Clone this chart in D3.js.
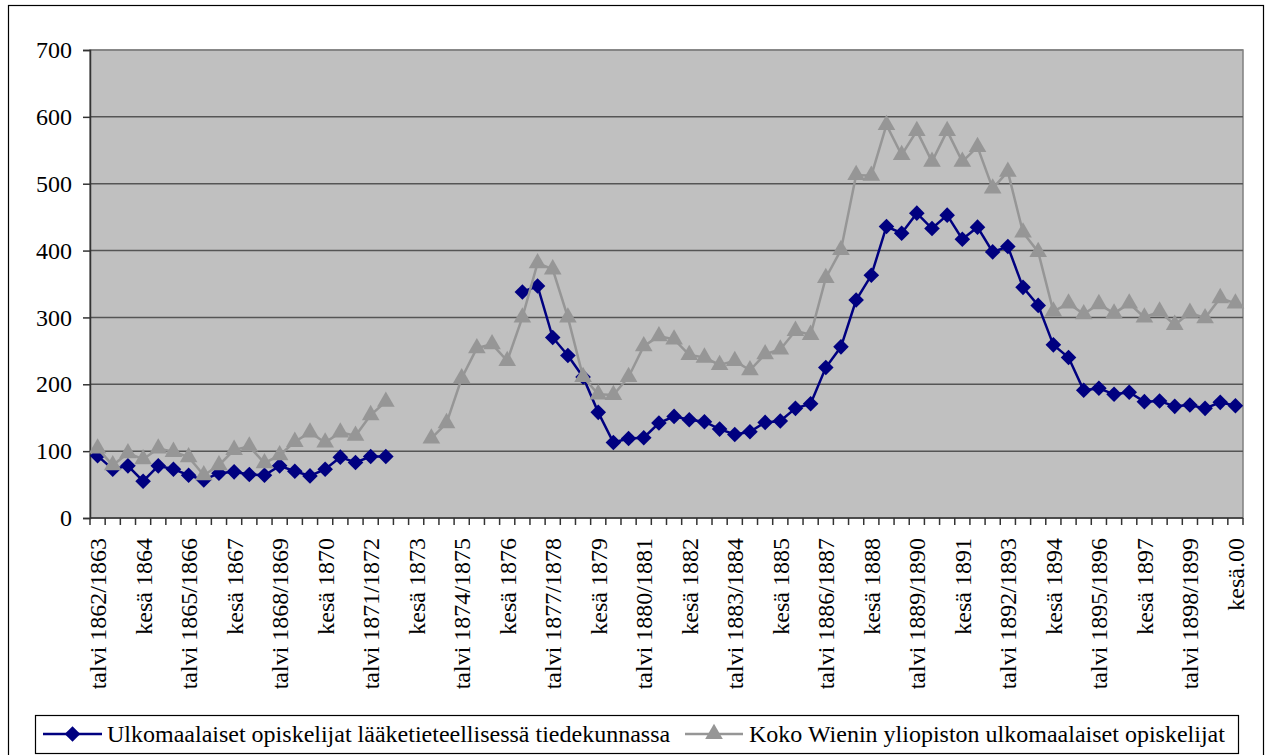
<!DOCTYPE html>
<html>
<head>
<meta charset="utf-8">
<script src="https://cdn.jsdelivr.net/npm/d3@7"></script>
<style>
  body { margin: 0; background: #fff; }
  svg { display: block; font-family: "Liberation Serif", serif; }
  svg text { font-family: "Liberation Serif", serif; }
</style>
</head>
<body>
<svg id="chart" width="1269" height="755"></svg>
<script>
// semesters: even index = talvi (winter) term, odd = kesä (summer) term
const categories = [];
for (let y = 1862; y <= 1899; y++) {
  categories.push('talvi ' + y + '/' + (y + 1));
  categories.push(y < 1899 ? 'kesä ' + (y + 1) : 'kesä.00');
}

const seriesNames = [
  'Ulkomaalaiset opiskelijat lääketieteellisessä tiedekunnassa',
  'Koko Wienin yliopiston ulkomaalaiset opiskelijat'
];

const medicine = [
  93, 73, 78, 55, 78, 73, 64, 57, 67, 69, 65, 64, 78, 70, 63, 73, 91, 83, 92, 92,
  null, null, null, null, null, null, null, null,
  338, 347, 270, 243, 211, 158, 113, 119, 120, 142, 152, 147,
  144, 133, 125, 129, 143, 145, 164, 171, 225, 256, 326, 363, 436, 426, 456, 433, 453, 417, 435,
  398, 406, 345, 318, 259, 240, 191, 194, 185, 188, 174, 175, 167, 169, 164, 173, 168
];

const wholeUniversity = [
  104, 79, 97, 88, 104, 99, 91, 64, 79, 102, 107, 82, 94, 114, 128, 113, 128, 123, 154, 174,
  null, null,
  119, 142, 209, 254, 260, 235, 300, 381, 372, 300, 211, 185, 184, 211, 257, 272, 267, 244,
  240, 229, 235, 221, 245, 252, 280, 274, 359, 401, 513, 512, 588, 543, 579, 533, 579, 533, 555,
  493, 518, 427, 398, 309, 321, 305, 320, 306, 321, 300, 309, 289, 307, 299, 329, 321
];

const yTicks = [0, 100, 200, 300, 400, 500, 600, 700];

const svg = d3.select('#chart');
const plot = { left: 90, right: 1243, top: 50, bottom: 518 };
const fontSize = 24;
const serif = '"Liberation Serif", serif';

const x = d3.scaleBand()
  .domain(d3.range(categories.length))
  .range([plot.left, plot.right])
  .padding(0);

const y = d3.scaleLinear()
  .domain([0, 700])
  .range([plot.bottom, plot.top]);

const cx = i => x(i) + x.bandwidth() / 2;

// outer frame
svg.append('rect')
  .attr('x', 8.5).attr('y', 5.5)
  .attr('width', 1255).attr('height', 770)
  .attr('fill', '#fff').attr('stroke', '#000').attr('stroke-width', 1.2);

// plot background
svg.append('rect')
  .attr('x', plot.left).attr('y', plot.top)
  .attr('width', plot.right - plot.left).attr('height', plot.bottom - plot.top)
  .attr('fill', '#c0c0c0').attr('stroke', '#808080').attr('stroke-width', 1.5);

// gridlines
svg.append('g')
  .selectAll('line')
  .data(yTicks.slice(1))
  .join('line')
  .attr('x1', plot.left).attr('x2', plot.right)
  .attr('y1', d => y(d)).attr('y2', d => y(d))
  .attr('stroke', d => d === 700 ? '#808080' : '#555')
  .attr('stroke-width', 1.5);

// y axis
const yAxis = svg.append('g')
  .attr('transform', `translate(${plot.left},0)`)
  .call(d3.axisLeft(y).tickValues(yTicks).tickSize(7).tickPadding(11).tickFormat(d3.format('d')))
  .attr('font-family', serif)
  .attr('font-size', fontSize);
yAxis.select('.domain').attr('stroke', '#333').attr('stroke-width', 1.5);
yAxis.selectAll('.tick line').attr('stroke', '#333').attr('stroke-width', 1.5);
yAxis.selectAll('text')
  .attr('font-family', serif)
  .attr('font-size', fontSize)
  .attr('fill', '#000');

// x axis: ticks between categories, labels every third category
const boundaries = d3.range(categories.length + 1).map(i => plot.left + i * x.bandwidth());
const xAxis = svg.append('g');
xAxis.append('line')
  .attr('x1', plot.left).attr('x2', plot.right)
  .attr('y1', plot.bottom).attr('y2', plot.bottom)
  .attr('stroke', '#333').attr('stroke-width', 1.5);
xAxis.selectAll('line.tick')
  .data(boundaries)
  .join('line')
  .attr('class', 'tick')
  .attr('x1', d => d).attr('x2', d => d)
  .attr('y1', plot.bottom).attr('y2', plot.bottom + 7)
  .attr('stroke', '#333').attr('stroke-width', 1.5);
xAxis.selectAll('text')
  .data(d3.range(0, categories.length, 3))
  .join('text')
  .attr('transform', i => `translate(${cx(i)},${plot.bottom + 20}) rotate(-90)`)
  .attr('text-anchor', 'end')
  .attr('dy', '0.35em')
  .attr('font-family', serif)
  .attr('font-size', fontSize)
  .text(i => categories[i]);

// series
const line = d3.line()
  .defined(d => d != null)
  .x((d, i) => cx(i))
  .y(d => y(d));

const diamond = d3.symbol().type(d3.symbolDiamond2).size(155);
const triangle = d3.symbol().type(d3.symbolTriangle).size(135);

function drawSeries(values, color, symbol) {
  const g = svg.append('g');
  g.append('path')
    .attr('d', line(values))
    .attr('fill', 'none')
    .attr('stroke', color)
    .attr('stroke-width', 2.5);
  g.selectAll('path.marker')
    .data(values.map((v, i) => ({ v, i })).filter(d => d.v != null))
    .join('path')
    .attr('class', 'marker')
    .attr('transform', d => `translate(${cx(d.i)},${y(d.v)})`)
    .attr('d', symbol)
    .attr('fill', color);
}

drawSeries(medicine, '#000080', diamond);
drawSeries(wholeUniversity, '#969696', triangle);

// legend
const legend = svg.append('g');
legend.append('rect')
  .attr('x', 35.5).attr('y', 715.5)
  .attr('width', 1203).attr('height', 38)
  .attr('fill', '#fff').attr('stroke', '#000').attr('stroke-width', 1.2);

const legendItems = [
  { name: seriesNames[0], color: '#000080', symbol: diamond, x0: 43, x1: 102, tx: 107 },
  { name: seriesNames[1], color: '#969696', symbol: triangle, x0: 685, x1: 743, tx: 749 }
];
const item = legend.selectAll('g.item')
  .data(legendItems)
  .join('g')
  .attr('class', 'item');
item.append('line')
  .attr('x1', d => d.x0).attr('x2', d => d.x1)
  .attr('y1', 734).attr('y2', 734)
  .attr('stroke', d => d.color).attr('stroke-width', 2.5);
item.append('path')
  .attr('transform', d => `translate(${(d.x0 + d.x1) / 2},734)`)
  .attr('d', d => d.symbol())
  .attr('fill', d => d.color);
item.append('text')
  .attr('x', d => d.tx).attr('y', 742)
  .attr('font-family', serif)
  .attr('font-size', fontSize)
  .text(d => d.name);
</script>
</body>
</html>
